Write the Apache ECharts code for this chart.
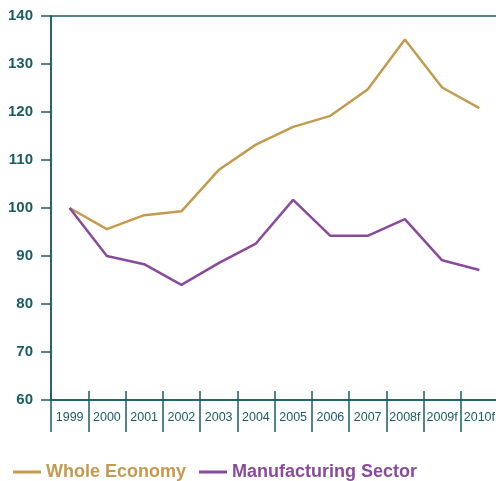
<!DOCTYPE html>
<html><head><meta charset="utf-8">
<script src="https://cdn.jsdelivr.net/npm/echarts@6/dist/echarts.min.js"></script>
<style>html,body{margin:0;padding:0;background:#fff}#c{width:496px;height:481px}</style>
</head><body><div id="c"></div>
<script>
const categories = ['1999','2000','2001','2002','2003','2004','2005','2006','2007','2008f','2009f','2010f'];
const wholeEconomy = [100, 95.6, 98.5, 99.3, 107.9, 113.2, 116.9, 119.2, 124.7, 135.1, 125.1, 120.8];
const manufacturing = [100, 90.0, 88.3, 84.0, 88.5, 92.6, 101.7, 94.2, 94.2, 97.7, 89.1, 87.1];
const yTicks = {min: 60, max: 140, interval: 10};

const teal = '#1b5b66';
const gold = '#c49a4f';
const purple = '#8a4a9c';
const font = '"Liberation Sans", Arial, Helvetica, sans-serif';

const chart = echarts.init(document.getElementById('c'), null, {renderer: 'canvas'});
chart.setOption({
  animation: false,
  grid: {left: 51, top: 16, right: -2, bottom: 81, containLabel: false, outerBoundsMode: 'none',
         show: true, borderColor: teal, borderWidth: 1.5, backgroundColor: 'transparent'},
  legend: {
    left: 13, top: 463, padding: 0, itemWidth: 28, itemHeight: 3, itemGap: 13, icon: 'rect',
    data: [
      {name: 'Whole Economy', textStyle: {color: gold}},
      {name: 'Manufacturing Sector', textStyle: {color: purple}}
    ],
    textStyle: {fontFamily: font, fontSize: 18, fontWeight: 'bold'}
  },
  xAxis: [{
    type: 'category', data: categories, boundaryGap: true, position: 'bottom',
    axisLine: {show: true, lineStyle: {color: teal, width: 1.5}},
    axisTick: {show: true, inside: true, length: 9, interval: 0, alignWithLabel: false, lineStyle: {color: teal, width: 1.5}},
    axisLabel: {color: teal, fontFamily: font, fontSize: 12.5, margin: 11, interval: 0}
  }, {
    type: 'category', data: categories, boundaryGap: true, position: 'bottom',
    axisLine: {show: false},
    axisTick: {show: true, inside: false, length: 32, interval: 0, alignWithLabel: false, lineStyle: {color: teal, width: 1.5}},
    axisLabel: {show: false}
  }],
  yAxis: {
    type: 'value', min: yTicks.min, max: yTicks.max, interval: yTicks.interval,
    axisLine: {show: true, lineStyle: {color: teal, width: 1.5}},
    axisTick: {show: true, length: 10, lineStyle: {color: teal, width: 1.5}},
    splitLine: {show: false},
    axisLabel: {color: teal, fontFamily: font, fontSize: 15, fontWeight: 'bold', margin: 18}
  },
  series: [
    {name: 'Whole Economy', type: 'line', data: wholeEconomy, symbol: 'none', lineStyle: {color: gold, width: 2.5}, itemStyle: {color: gold}},
    {name: 'Manufacturing Sector', type: 'line', data: manufacturing, symbol: 'none', lineStyle: {color: purple, width: 2.5}, itemStyle: {color: purple}}
  ]
});
</script></body></html>
